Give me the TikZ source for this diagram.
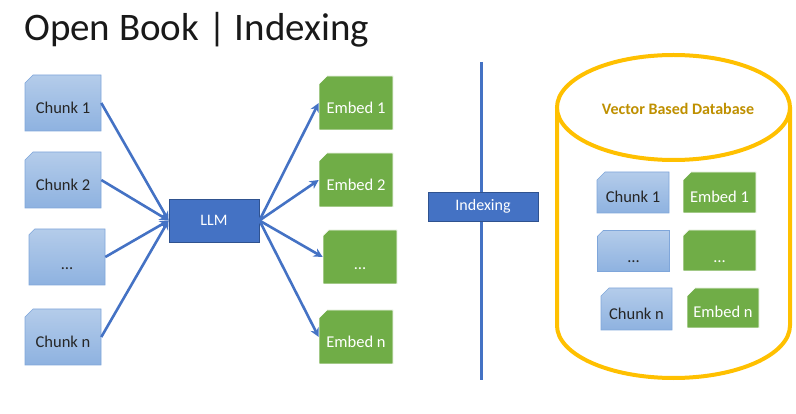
\documentclass[tikz,border=0pt]{standalone}
\usepackage{fontspec}
\setmainfont{Carlito}
\usetikzlibrary{shapes.misc}
\usetikzlibrary{arrows.meta}

\definecolor{chunktop}{HTML}{B4CCEA}
\definecolor{chunkbot}{HTML}{8EB2E0}
\definecolor{chunkline}{HTML}{7FA6DA}
\definecolor{embedgreen}{HTML}{70AD47}
\definecolor{llmblue}{HTML}{4472C4}
\definecolor{llmline}{HTML}{2F528F}
\definecolor{dbgold}{HTML}{FFC000}
\definecolor{dbtext}{HTML}{BF9000}

% text sits a little below the middle of the snipped boxes
\newcommand{\lowtxt}[2][11pt]{\raisebox{-#1}[0pt][0pt]{#2}}

\tikzset{
  chunk/.style={chamfered rectangle, chamfered rectangle corners=north west,
    chamfered rectangle xsep=9pt, chamfered rectangle ysep=8pt,
    top color=chunktop, bottom color=chunkbot, draw=chunkline, line width=0.6pt,
    minimum width=76pt, minimum height=56pt, inner sep=0pt,
    font=\fontsize{16.5}{18}\selectfont, text=black!85},
  embed/.style={chamfered rectangle, chamfered rectangle corners=north west,
    chamfered rectangle xsep=9pt, chamfered rectangle ysep=8pt,
    fill=embedgreen, draw=white, line width=0.6pt,
    minimum width=74pt, minimum height=54pt, inner sep=0pt,
    font=\fontsize{16.5}{18}\selectfont, text=white},
  dbchunk/.style={chunk, minimum width=72pt, minimum height=41pt},
  dbembed/.style={embed, minimum width=73pt, minimum height=41pt},
  bluebox/.style={rectangle, fill=llmblue, draw=llmline, line width=0.8pt,
    inner sep=0pt, font=\fontsize{16}{18}\selectfont, text=white},
  link/.style={draw=llmblue, line width=2.6pt, -{Stealth[length=9pt,width=9pt]}}
}

\begin{document}
\begin{tikzpicture}[x=1pt,y=-1pt]
    \useasboundingbox (0,0) rectangle (796,414);
    % title
    \node[anchor=base west, inner sep=0pt, font=\fontsize{39}{46}\selectfont, text=black!90] (title) at (24,41) {Open Book | Indexing};

    % chunks
    \node[chunk] (c1) at (63,103) {\lowtxt{Chunk 1}};
    \node[chunk] (c2) at (63,180) {\lowtxt{Chunk 2}};
    \node[chunk] (c3) at (67,257) {\lowtxt[13pt]{\dots}};
    \node[chunk] (c4) at (63,337) {\lowtxt{Chunk n}};

    % model
    \node[bluebox, minimum width=90pt, minimum height=43pt] (llm) at (214,220.5) {LLM};

    % embeddings
    \node[embed] (e1) at (356,103) {\lowtxt{Embed 1}};
    \node[embed] (e2) at (356,180) {\lowtxt{Embed 2}};
    \node[embed] (e3) at (360,257) {\lowtxt[13pt]{\dots}};
    \node[embed] (e4) at (356,337) {\lowtxt{Embed n}};

    \foreach \i in {1,...,4} {
      \draw[link] (c\i.east) -- (llm.west);
      \draw[link] (llm.east) -- (e\i.west);
    }

    % divider
    \coordinate (top) at (481,62);
    \coordinate (bot) at (481,380);
    \draw[llmblue, line width=3pt] (top) -- (bot);
    \node[bluebox, minimum width=110pt, minimum height=29pt] (idx) at (483,206.5) {Indexing};

    % database
    \draw[dbgold, line width=4pt] (557,107.5) -- (557,325.5) arc[start angle=180, end angle=0, x radius=116.5, y radius=52.5] -- (790,107.5);
    \draw[dbgold, line width=4pt, fill=white] (673.5,107.5) ellipse[x radius=116.5, y radius=52.5];
    \node[font=\fontsize{16}{18}\selectfont\bfseries, text=dbtext] (db) at (678,109) {Vector Based Database};

    \node[dbchunk] (d1) at (633,192.5) {\lowtxt[10pt]{Chunk 1}};
    \node[dbembed] (f1) at (719.5,192.5) {\lowtxt[10pt]{Embed 1}};
    \node[dbchunk] (d2) at (633.5,251) {\lowtxt[12pt]{\dots}};
    \node[dbembed] (f2) at (719.5,250.5) {\lowtxt[12pt]{\dots}};
    \node[dbchunk, minimum width=71pt, minimum height=42pt] (d3) at (636.5,309) {\lowtxt[10pt]{Chunk n}};
    \node[dbembed, minimum width=72pt, minimum height=40pt] (f3) at (723,308) {\lowtxt[10pt]{Embed n}};
\end{tikzpicture}
\end{document}
